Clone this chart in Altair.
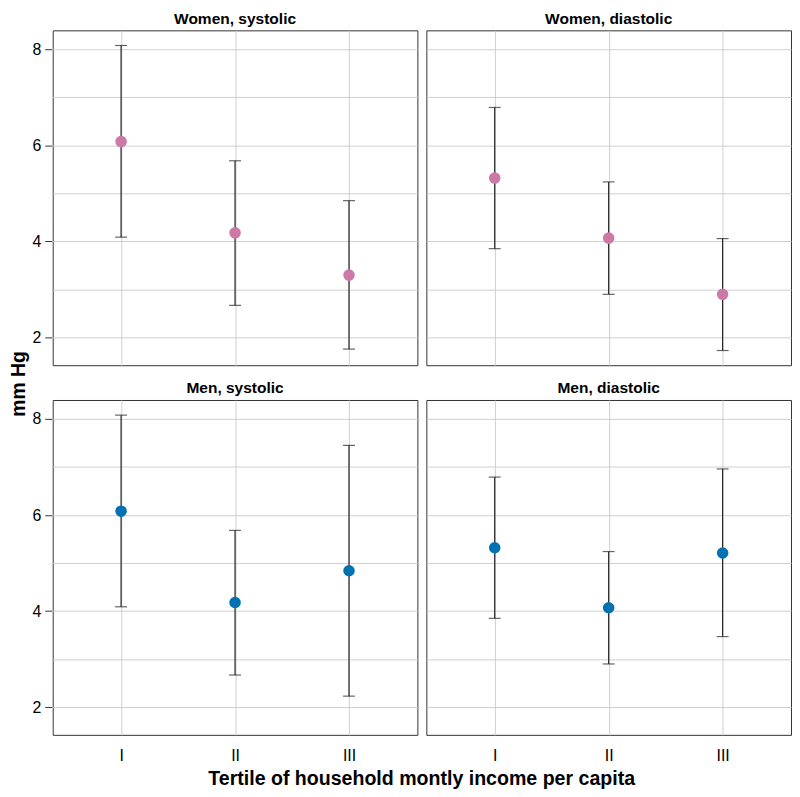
import altair as alt
import pandas as pd

panels = ["Women, systolic", "Women, diastolic", "Men, systolic", "Men, diastolic"]
sexes = ["Women", "Women", "Men", "Men"]
tertiles = [1, 2, 3]
tertile_labels = ["I", "II", "III"]
means = [[6.08, 4.18, 3.30], [5.32, 4.07, 2.90], [6.08, 4.18, 4.84], [5.32, 4.07, 5.21]]
lowers = [[4.09, 2.67, 1.76], [3.85, 2.90, 1.73], [4.09, 2.67, 2.23], [3.85, 2.90, 3.47]]
uppers = [[8.08, 5.68, 4.85], [6.79, 5.24, 4.06], [8.08, 5.68, 7.45], [6.79, 5.24, 6.96]]
sex_colors = {"Women": "#cc79a7", "Men": "#0072b2"}
y_grid = [2, 3, 4, 5, 6, 7, 8]

rows = []
for i, p in enumerate(panels):
    for j, t in enumerate(tertiles):
        rows.append({"panel": p, "sex": sexes[i], "tertile": t,
                     "mean": means[i][j], "lower": lowers[i][j], "upper": uppers[i][j]})
df = pd.DataFrame(rows)

FONT = "Liberation Sans"
W, H = 367, 337

label_expr = ("datum.value == 1 ? '" + tertile_labels[0] + "' : datum.value == 2 ? '"
              + tertile_labels[1] + "' : '" + tertile_labels[2] + "'")
x_enc = alt.X("tertile:Q", scale=alt.Scale(domain=[0.4, 3.6], nice=False, zero=False),
              axis=alt.Axis(values=tertiles, title=None, ticks=False, tickSize=0,
                            labelExpr=label_expr,
                            labelPadding=12, labelFontSize=16, grid=True))
y_scale = alt.Scale(domain=[1.424, 8.395], nice=False, zero=False)
y_axis = alt.Axis(values=y_grid, title=None, tickSize=7, labelPadding=4, labelFontSize=16,
                  labelExpr="datum.value % 2 === 0 ? datum.label : ''",
                  tickOpacity={"condition": {"test": "datum.value % 2 === 0", "value": 1}, "value": 0},
                  grid=True)

base = alt.Chart(df)

bars = base.mark_rule(color="#222", strokeWidth=1.2).encode(
    x=x_enc,
    y=alt.Y("lower:Q", scale=y_scale, axis=y_axis),
    y2="upper:Q",
)
cap_lo = base.mark_tick(orient="horizontal", size=12, thickness=1.2, color="#222").encode(
    x=x_enc, y=alt.Y("lower:Q", scale=y_scale, axis=y_axis))
cap_hi = base.mark_tick(orient="horizontal", size=12, thickness=1.2, color="#222").encode(
    x=x_enc, y=alt.Y("upper:Q", scale=y_scale, axis=y_axis))
pts = base.mark_point(filled=True, opacity=1, size=135).encode(
    x=x_enc,
    y=alt.Y("mean:Q", scale=y_scale, axis=y_axis),
    color=alt.Color("sex:N", scale=alt.Scale(domain=list(sex_colors.keys()),
                                             range=list(sex_colors.values())), legend=None),
)

layered = alt.layer(bars, cap_lo, cap_hi, pts).properties(width=W, height=H)

facet = layered.facet(
    facet=alt.Facet("panel:N", sort=panels, title=None,
                    header=alt.Header(labelFontSize=15.6, labelFontWeight="bold", labelFont=FONT,
                                      labelColor="black", labelPadding=3)),
    columns=2,
    spacing={"row": 14, "column": 7},
).properties(
    title=alt.TitleParams("Tertile of household montly income per capita", orient="bottom",
                          anchor="middle", fontSize=19.7, fontWeight="bold", font=FONT,
                          color="black", offset=5, dx=10)
)

chart = alt.hconcat(facet).properties(
    title=alt.TitleParams("mm Hg", orient="left", anchor="middle", fontSize=19.5,
                          fontWeight="bold", font=FONT, color="black", offset=2, dx=16),
    padding={"left": 1, "top": 0, "right": 0, "bottom": 0},
).configure_view(
    stroke="#333", strokeWidth=1
).configure_axis(
    domain=False, gridColor="#cfcfcf", gridWidth=1, labelFont=FONT, labelColor="black",
    tickColor="#333"
).configure_concat(spacing=0)

chart.save("out.html", embed_options={"renderer": "svg", "actions": False})
